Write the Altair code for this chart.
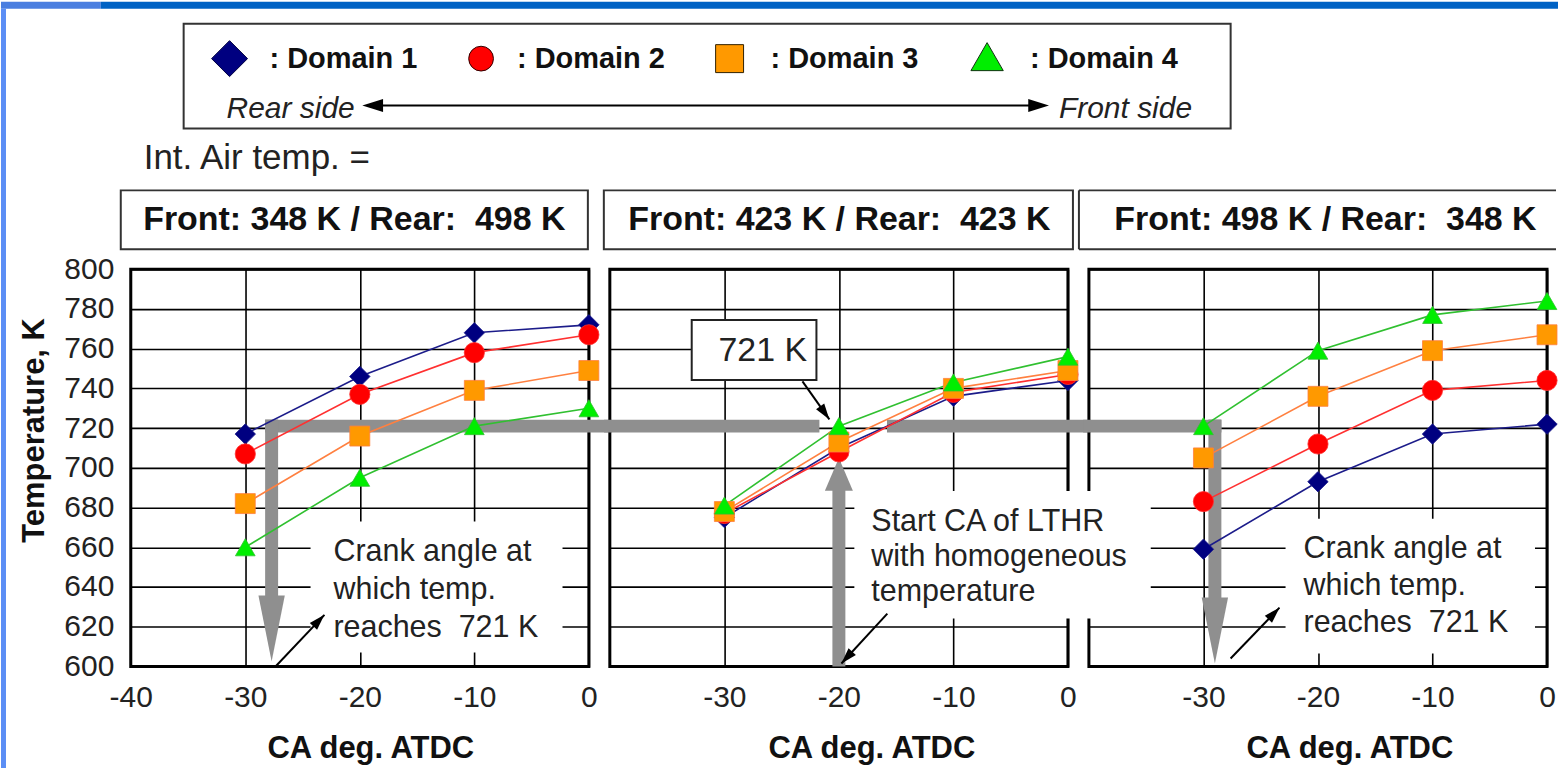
import math
import altair as alt
import pandas as pd

FONT = "Liberation Sans"

# ---------------- data ----------------
ca = [-30, -20, -10, 0]
domains = ["Domain 1", "Domain 2", "Domain 3", "Domain 4"]
panel_titles = ["Front: 348 K / Rear:\u00a0 498 K",
                "Front: 423 K / Rear:\u00a0 423 K",
                "Front: 498 K / Rear:\u00a0 348 K"]

temp_p1 = {"Domain 1": [717, 746, 768, 772],
           "Domain 2": [707, 737, 758, 767],
           "Domain 3": [682, 716, 739, 749],
           "Domain 4": [660, 695, 721, 730]}
temp_p2 = {"Domain 1": [675, 710, 736, 744],
           "Domain 2": [677, 708, 738, 747],
           "Domain 3": [678, 713, 740, 749],
           "Domain 4": [681, 721, 743, 756]}
temp_p3 = {"Domain 1": [659, 693, 717, 722],
           "Domain 2": [683, 712, 739, 744],
           "Domain 3": [705, 736, 759, 767],
           "Domain 4": [721, 759, 777, 784]}

x_ticks_first = [-40, -30, -20, -10, 0]
x_ticks_other = [-30, -20, -10, 0]
y_ticks = [600, 620, 640, 660, 680, 700, 720, 740, 760, 780, 800]

note_lines_side = ["Crank angle at", "which temp.", "reaches\u00a0 721 K"]
note_lines_mid = ["Start CA of LTHR", "with homogeneous", "temperature"]
threshold_label = "721 K"

# ---------------- styles / layout ----------------
PW, PH = 459, 398
GAP = 21
GRAY = "#8f8f8f"
line_colors = ["#1c1c8a", "#ff3030", "#ff8040", "#30c030"]
fill_colors = ["#000080", "#ff0000", "#ff9900", "#00ee00"]
shapes = ["diamond", "circle", "square", "triangle-up"]
sizes = [420, 390, 460, 440]
NOTE_SIZE = 30.5
X_TITLE_POS = [240, 262, 261]

one = pd.DataFrame({"k": [0]})


def prect(x, x2, y, y2, **kw):
    return alt.Chart(one).mark_rect(**kw).encode(
        x=alt.value(x), x2=alt.value(x2), y=alt.value(y), y2=alt.value(y2))


def prule(x, x2, y, y2, **kw):
    return alt.Chart(one).mark_rule(**kw).encode(
        x=alt.value(x), x2=alt.value(x2), y=alt.value(y), y2=alt.value(y2))


def ppoint(x, y, **kw):
    return alt.Chart(one).mark_point(**kw).encode(x=alt.value(x), y=alt.value(y))


def ptext(x, y, text, size, weight="normal", style="normal", align="left", color="#111"):
    return alt.Chart(one).mark_text(
        text=text, font=FONT, fontSize=size, fontWeight=weight, fontStyle=style,
        align=align, baseline="middle", color=color).encode(x=alt.value(x), y=alt.value(y))


xs = alt.Scale(domain=[-40, 0], nice=False, zero=False)
ys = alt.Scale(domain=[600, 800], nice=False, zero=False)


def long_df(temps):
    rows = []
    for d in domains:
        for c, t in zip(ca, temps[d]):
            rows.append({"ca": c, "temp": t, "domain": d})
    return pd.DataFrame(rows)


def arrow_angle(c1, t1, c2, t2):
    dx = (c2 - c1) * PW / 40.0
    dy = -(t2 - t1) * PH / 200.0
    return math.degrees(math.atan2(dx, -dy)) % 360


THIN_HEAD = "M0,0L-0.5,1.6L0.5,1.6Z"
GRAY_DOWN = "M0,0L-0.4,-2L0.4,-2Z"
GRAY_UP = "M0,0L-0.85,2L0.85,2Z"


def make_panel(idx, temps, first, white_boxes, gray_segments, gray_heads,
               thin_arrows, notes, extras):
    xticks = x_ticks_first if first else x_ticks_other
    xaxis = alt.Axis(values=xticks, title="CA deg. ATDC", labelPadding=16, labelFlush=False,
                     labelExpr="'' + datum.value", titleX=X_TITLE_POS[idx], titleY=82,
                     titleAlign="center", titleBaseline="middle", titleFontSize=31)
    if first:
        yaxis = alt.Axis(values=y_ticks, title="Temperature, K", labelPadding=17, labelFlush=False,
                         titleX=-96, titleY=161, titleAngle=270, titleBaseline="middle",
                         titleAlign="center", titleFontSize=31)
    else:
        yaxis = alt.Axis(values=y_ticks, labels=False, title="")

    def X(f):
        return alt.X(f + ":Q", scale=xs, axis=xaxis)

    def Y(f):
        return alt.Y(f + ":Q", scale=ys, axis=yaxis)

    layers = []
    # frame
    layers.append(prect(0, PW, 0, PH, fill="transparent", stroke="black", strokeWidth=3))
    # white boxes behind notes
    if white_boxes:
        wb = pd.DataFrame(white_boxes, columns=["ca", "ca2", "temp", "temp2"])
        layers.append(alt.Chart(wb).mark_rect(fill="white").encode(
            x=X("ca"), x2="ca2:Q", y=Y("temp"), y2="temp2:Q"))
    # gray guide arrows
    gs = pd.DataFrame(gray_segments, columns=["ca", "temp", "ca2", "temp2"])
    layers.append(alt.Chart(gs).mark_rule(color=GRAY, strokeWidth=13, strokeCap="butt").encode(
        x=X("ca"), y=Y("temp"), x2="ca2:Q", y2="temp2:Q"))
    for (c, t, path, size) in gray_heads:
        hd = pd.DataFrame({"ca": [c], "temp": [t]})
        layers.append(alt.Chart(hd).mark_point(shape=path, size=size, filled=True, fill=GRAY,
                                               opacity=1, strokeWidth=0).encode(x=X("ca"), y=Y("temp")))
    # data
    df = long_df(temps)
    stroke_scale = alt.Scale(domain=domains, range=line_colors)
    layers.append(alt.Chart(df).mark_line(strokeWidth=1.6).encode(
        x=X("ca"), y=Y("temp"),
        stroke=alt.Stroke("domain:N", scale=stroke_scale, legend=None),
        order="ca:Q"))
    layers.append(alt.Chart(df).mark_point(filled=True, opacity=1, strokeWidth=0.8).encode(
        x=X("ca"), y=Y("temp"),
        shape=alt.Shape("domain:N", scale=alt.Scale(domain=domains, range=shapes), legend=None),
        fill=alt.Fill("domain:N", scale=alt.Scale(domain=domains, range=fill_colors), legend=None),
        stroke=alt.Stroke("domain:N", scale=stroke_scale, legend=None),
        size=alt.Size("domain:O", scale=alt.Scale(domain=domains, range=sizes), legend=None)))
    # thin black arrows
    for (c1, t1, c2, t2) in thin_arrows:
        ad = pd.DataFrame({"ca": [c1], "temp": [t1], "ca2": [c2], "temp2": [t2]})
        layers.append(alt.Chart(ad).mark_rule(color="black", strokeWidth=2).encode(
            x=X("ca"), y=Y("temp"), x2="ca2:Q", y2="temp2:Q"))
        hd = pd.DataFrame({"ca": [c2], "temp": [t2]})
        layers.append(alt.Chart(hd).mark_point(shape=THIN_HEAD, size=400, filled=True,
                                               fill="black", opacity=1, strokeWidth=0,
                                               angle=arrow_angle(c1, t1, c2, t2)).encode(
            x=X("ca"), y=Y("temp")))
    # notes
    for (c, temps_l, lines, size, align, boxed) in notes:
        if boxed:
            bx = pd.DataFrame([boxed], columns=["ca", "ca2", "temp", "temp2"])
            layers.append(alt.Chart(bx).mark_rect(fill="white", stroke="#222", strokeWidth=2).encode(
                x=X("ca"), x2="ca2:Q", y=Y("temp"), y2="temp2:Q"))
        nd = pd.DataFrame({"ca": [c] * len(lines), "temp": temps_l, "label": lines})
        layers.append(alt.Chart(nd).mark_text(font=FONT, fontSize=size, align=align,
                                              baseline="middle", color="#222").encode(
            x=X("ca"), y=Y("temp"), text="label:N"))
    layers.extend(extras)
    return alt.layer(*layers).properties(width=PW, height=PH)


# ---------- decorations outside the plot areas (pixel offsets from each panel) ----------
extras1 = [
    prect(-130, -30, -268, -261, fill="#4a7ee0"),
    prect(-30, 1430, -268, -261, fill="#0062c4"),
    prect(-130, -125, -261, 500, fill="#5b8ef5"),
    prect(53, 1102, -246, -141, fill="white", stroke="#333", strokeWidth=2),
    ppoint(99, -211, shape="diamond", size=1300, filled=True, fill="#000080", stroke="#000040", strokeWidth=1, opacity=1),
    ppoint(351, -211, shape="circle", size=616, filled=True, fill="#ff0000", stroke="#300000", strokeWidth=1, opacity=1),
    ppoint(600, -211, shape="square", size=784, filled=True, fill="#ff9900", stroke="#302000", strokeWidth=1, opacity=1),
    ppoint(858, -213, shape="triangle-up", size=1050, filled=True, fill="#00ee00", stroke="#103010", strokeWidth=1, opacity=1),
    ptext(139, -211, ": " + domains[0], 29, weight="bold"),
    ptext(387, -211, ": " + domains[1], 29, weight="bold"),
    ptext(641, -211, ": " + domains[2], 29, weight="bold"),
    ptext(901, -211, ": " + domains[3], 29, weight="bold"),
    ptext(96, -161, "Rear side", 30, style="italic", color="#222"),
    ptext(930, -161, "Front side", 30, style="italic", color="#222"),
    prule(240, 912, -164, -164, color="black", strokeWidth=2),
    ppoint(232, -164, shape="M0,0L1.6,-0.5L1.6,0.5Z", size=676, filled=True, fill="black", strokeWidth=0, opacity=1),
    ppoint(920, -164, shape="M0,0L-1.6,-0.5L-1.6,0.5Z", size=676, filled=True, fill="black", strokeWidth=0, opacity=1),
    ptext(13, -111, "Int. Air temp. =", 35, color="#222"),
    prect(-10, 458, -79, -20, fill="white", stroke="#333", strokeWidth=2),
    ptext(224, -49, panel_titles[0], 34, weight="bold", align="center"),
]
extras2 = [
    prect(-6, 464, -79, -20, fill="white", stroke="#333", strokeWidth=2),
    ptext(230, -49, panel_titles[1], 34, weight="bold", align="center"),
]
# the middle note runs across into the third panel's area, so it is drawn last
extras3 = [
    prule(-10, 468, -79, -79, color="#333", strokeWidth=2),
    prule(-10, 468, -20, -20, color="#333", strokeWidth=2),
    prule(-10, -10, -79, -20, color="#333", strokeWidth=2),
    ptext(237, -49, panel_titles[2], 34, weight="bold", align="center"),
    ptext(-218, 253, note_lines_mid[0], NOTE_SIZE, color="#222"),
    ptext(-218, 288, note_lines_mid[1], NOTE_SIZE, color="#222"),
    ptext(-218, 323, note_lines_mid[2], NOTE_SIZE, color="#222"),
]

p1 = make_panel(
    0, temp_p1, True,
    white_boxes=[(-24.3, -2.3, 673, 607)],
    gray_segments=[(-28.27, 721, 2.0, 721), (-27.7, 724.3, -27.7, 634)],
    gray_heads=[(-27.7, 602.5, GRAY_DOWN, 4356)],
    thin_arrows=[(-27.36, 600, -23.09, 626)],
    notes=[(-22.3, [657.8, 638.7, 619.6], note_lines_side, NOTE_SIZE, "left", None)],
    extras=extras1)

p2 = make_panel(
    1, temp_p2, False,
    white_boxes=[(-18.65, 1.6, 688.4, 624.1)],
    gray_segments=[(-40.5, 721, -21.7, 721), (-15.8, 721, 2.0, 721), (-20, 600, -20, 690)],
    gray_heads=[(-20, 705, GRAY_UP, 1089)],
    thin_arrows=[(-23.18, 743.5, -20.83, 724.4), (-15.77, 626.6, -19.78, 601.5)],
    notes=[(-26.65, [758.8], [threshold_label], 34, "center", (-32.85, -21.96, 774.4, 744.2))],
    extras=extras2)

p3 = make_panel(
    2, temp_p3, False,
    white_boxes=[(-41, -34.6, 688.4, 624.1), (-22.83, -1.05, 674.4, 606.5)],
    gray_segments=[(-40.5, 721, -28.43, 721), (-29, 724.3, -29, 634)],
    gray_heads=[(-29, 601.5, GRAY_DOWN, 4356)],
    thin_arrows=[(-27.63, 604, -23.36, 629.6)],
    notes=[(-21.26, [659.3, 640.7, 622.1], note_lines_side, NOTE_SIZE, "left", None)],
    extras=extras3)

chart = alt.hconcat(p1, p2, p3, spacing=GAP, bounds="flush", padding=0,
                    background="white").configure_view(
    stroke="transparent").configure_axis(
    domain=False, ticks=False, grid=True, gridColor="black", gridWidth=1.6, gridOpacity=1,
    labelFont=FONT, labelFontSize=30, labelColor="#222",
    titleFont=FONT, titleFontSize=28, titleFontWeight="bold", titleColor="#111")

chart.save("out.html", embed_options={"renderer": "svg", "actions": False})
